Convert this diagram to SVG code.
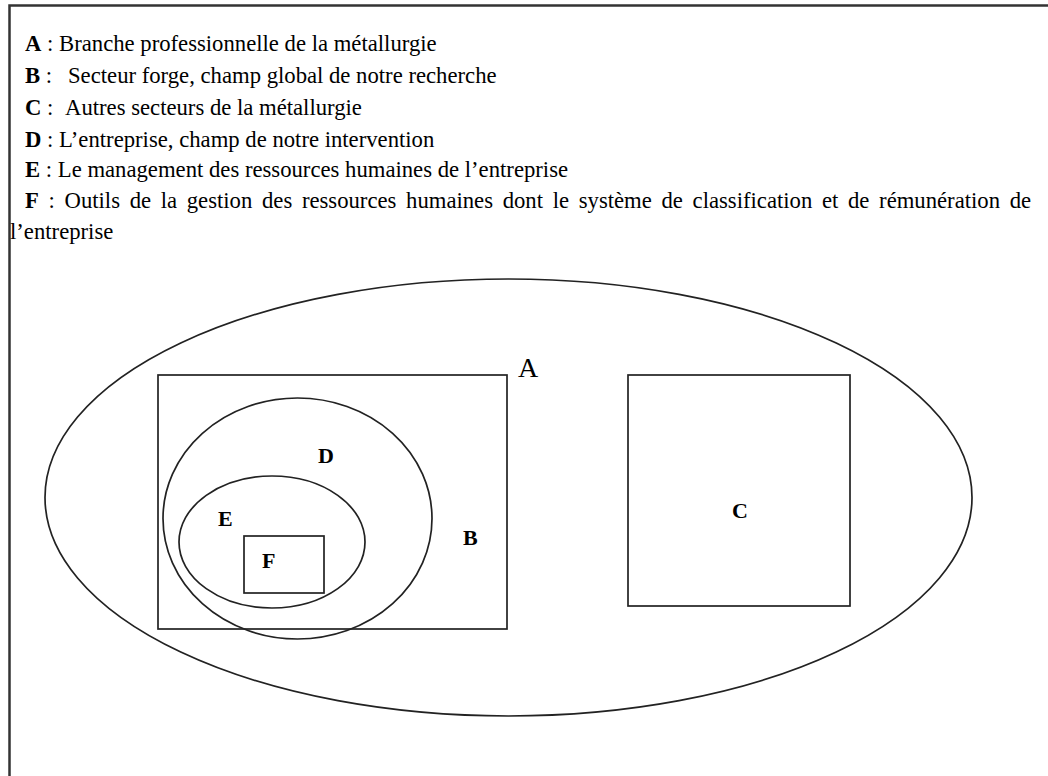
<svg xmlns="http://www.w3.org/2000/svg" width="1048" height="776" viewBox="0 0 1048 776">
<style>
text{font-family:"Liberation Serif","Times New Roman",serif;font-size:22px;fill:#000}
.leg{font-size:22.7px}
.b{font-weight:bold}
.shape{fill:none;stroke:#222;stroke-width:1.7}
.frame{fill:none;stroke:#333;stroke-width:2.5}
</style>
<rect width="1048" height="776" fill="#fff"/>
<path class="frame" d="M9.5,776 V5.5 H1048"/>
<g id="legend">
<text class="leg" x="25" y="51"><tspan class="b">A</tspan> : Branche professionnelle de la métallurgie</text>
<text class="leg" x="25" y="83"><tspan class="b">B</tspan> :<tspan x="68">Secteur forge, champ global de notre recherche</tspan></text>
<text class="leg" x="25" y="115"><tspan class="b">C</tspan> :<tspan x="65">Autres secteurs de la métallurgie</tspan></text>
<text class="leg" x="25" y="147"><tspan class="b">D</tspan> : L’entreprise, champ de notre intervention</text>
<text class="leg" x="25" y="177"><tspan class="b">E</tspan> : Le management des ressources humaines de l’entreprise</text>
<text class="leg" x="25" y="208" word-spacing="4"><tspan class="b">F</tspan> : Outils de la gestion des ressources humaines dont le système de classification et de rémunération de</text>
<text class="leg" x="10" y="239">l’entreprise</text>
</g>
<g id="nodeA">
<ellipse class="shape" cx="508.5" cy="497.5" rx="463.5" ry="218.5"/>
<text x="518" y="377" style="font-size:28px">A</text>
</g>
<g id="nodeB">
<rect class="shape" x="158" y="375" width="349" height="254"/>
<text class="b" x="463" y="545">B</text>
</g>
<g id="nodeC">
<rect class="shape" x="628" y="375" width="222" height="231"/>
<text class="b" x="732" y="518">C</text>
</g>
<g id="nodeD">
<ellipse class="shape" cx="297.5" cy="518.5" rx="134.5" ry="120.5"/>
<text class="b" x="318" y="463">D</text>
</g>
<g id="nodeE">
<ellipse class="shape" cx="272" cy="542" rx="93" ry="66"/>
<text class="b" x="218" y="526">E</text>
</g>
<g id="nodeF">
<rect class="shape" x="244" y="536" width="80" height="57"/>
<text class="b" x="262" y="568">F</text>
</g>
<g id="connectors"></g>
</svg>
